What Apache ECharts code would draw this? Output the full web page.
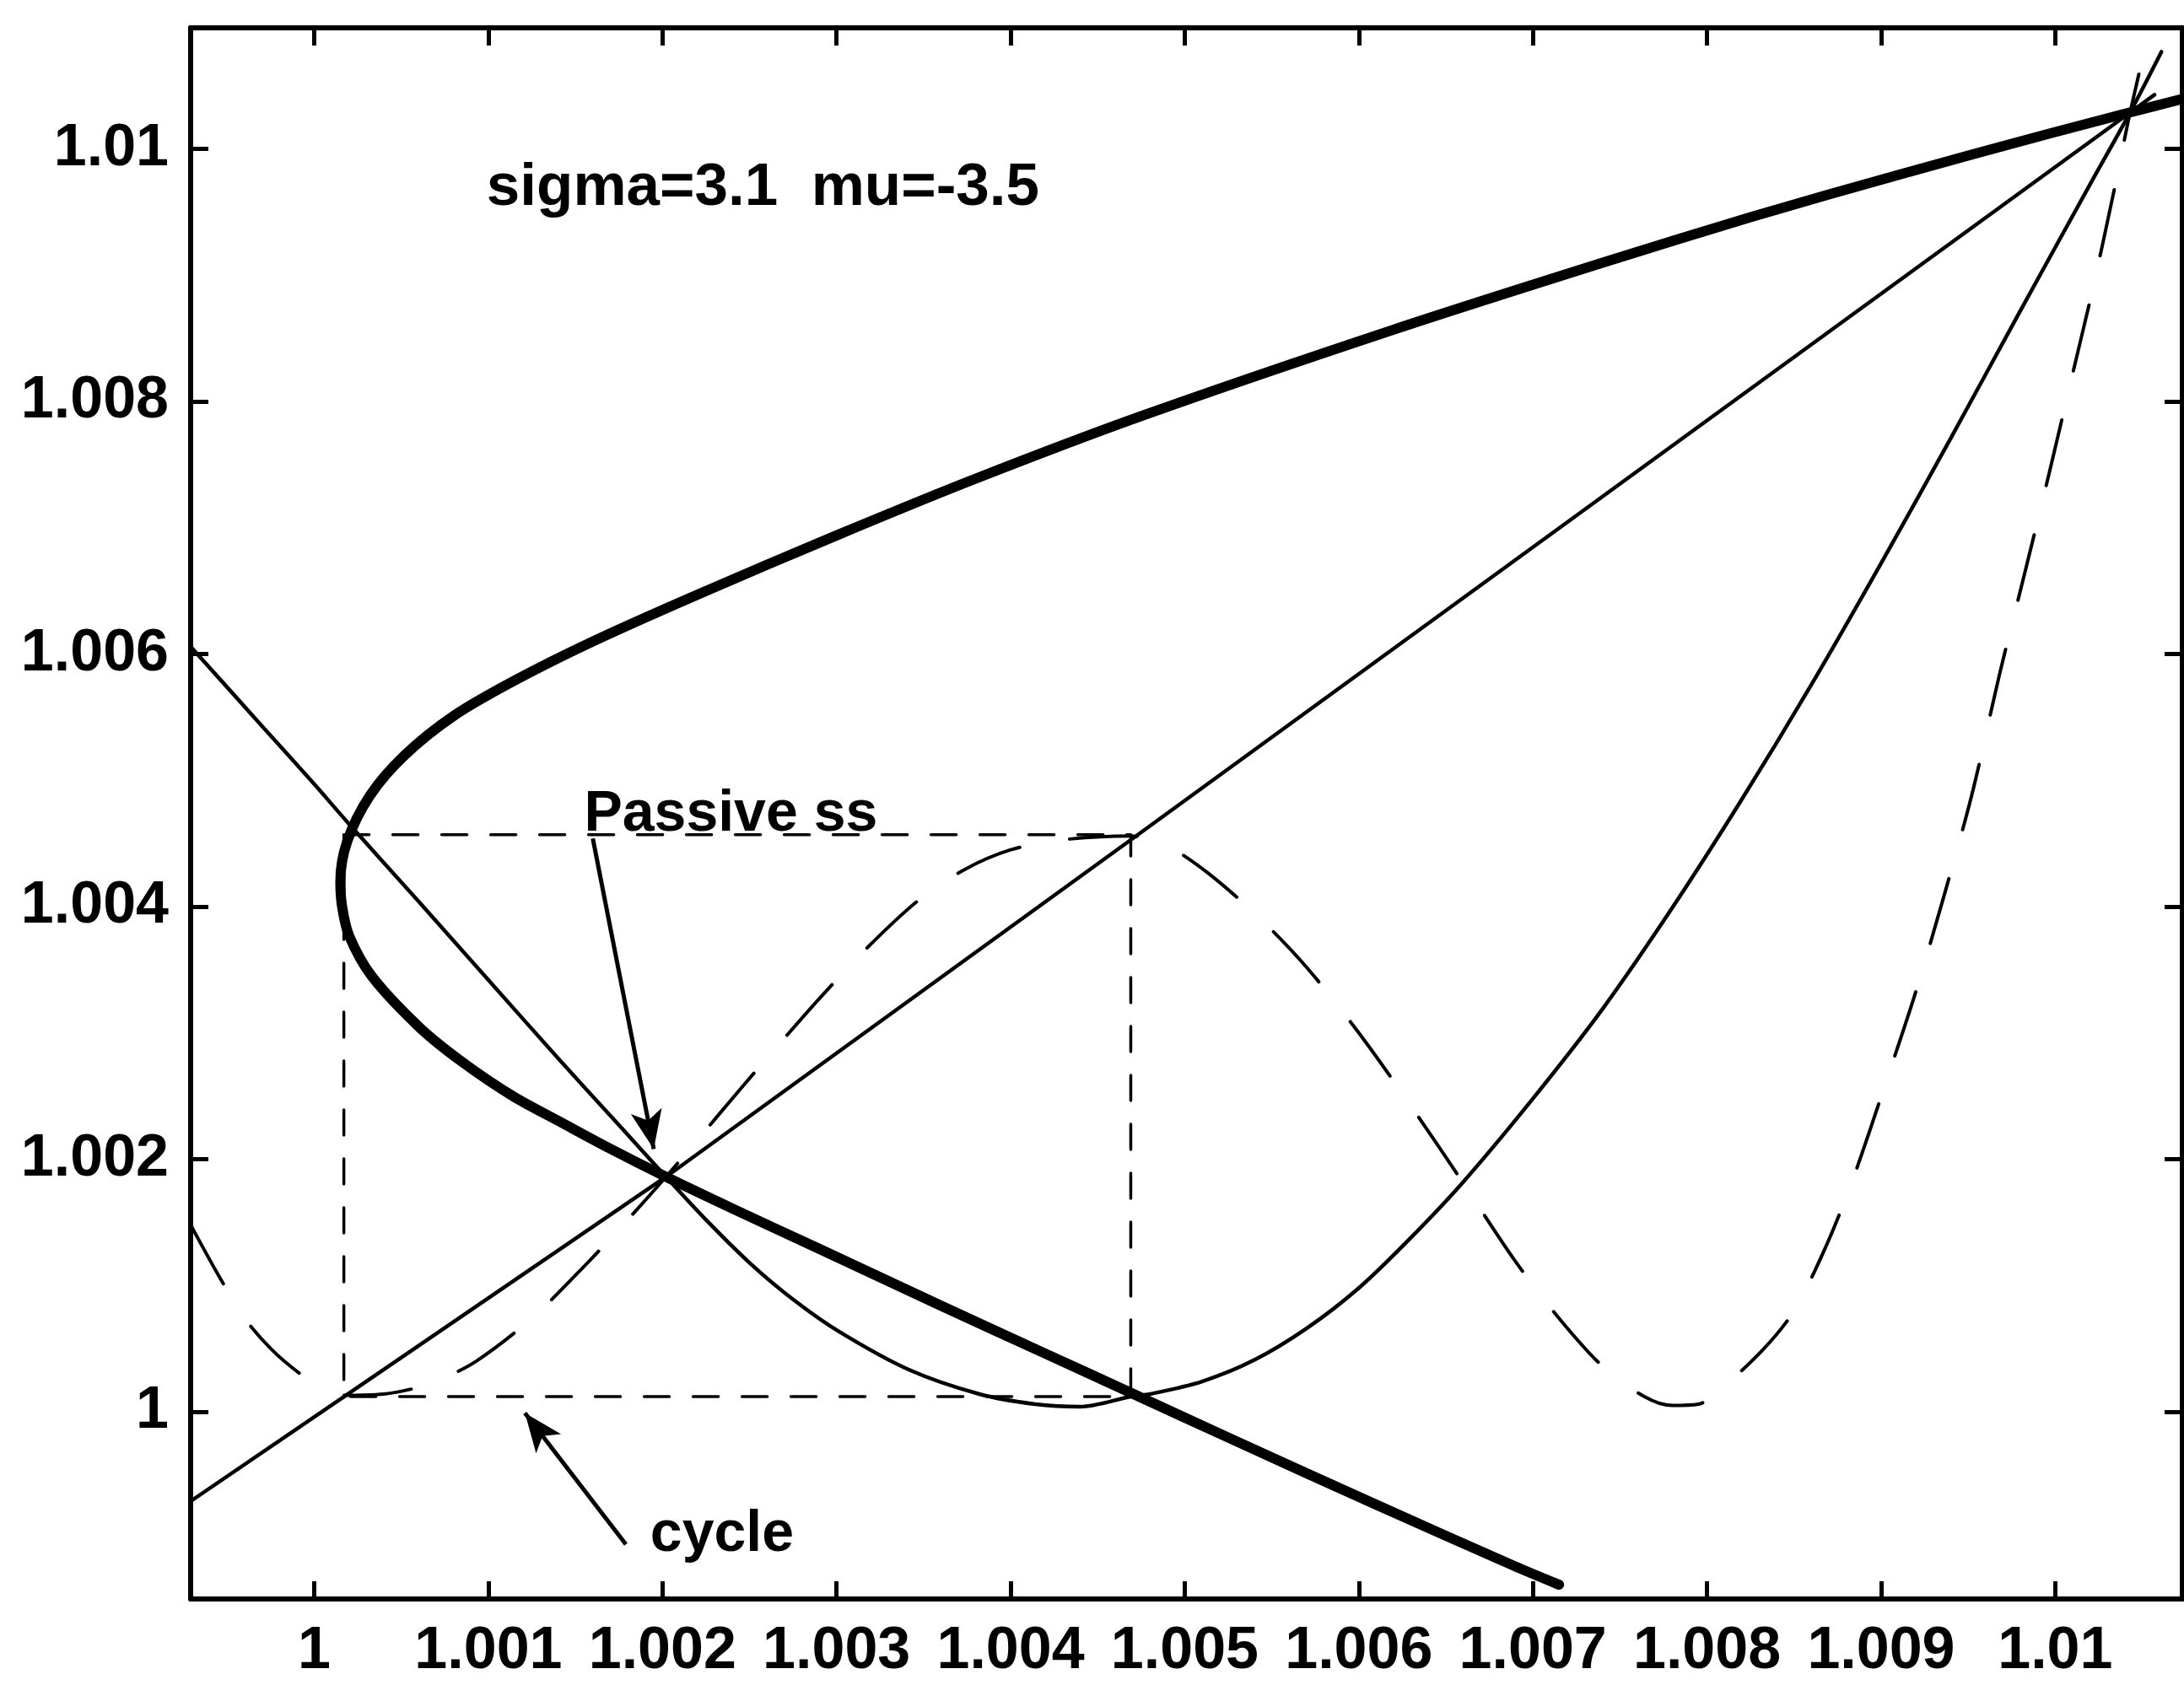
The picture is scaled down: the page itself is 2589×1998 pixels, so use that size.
<!DOCTYPE html>
<html>
<head>
<meta charset="utf-8">
<script src="https://cdn.jsdelivr.net/npm/echarts@6/dist/echarts.min.js"></script>
<style>
html,body{margin:0;padding:0;background:#fff;}
#chart{width:2589px;height:1998px;}
</style>
</head>
<body>
<div id="chart"></div>
<script>
// ---- axis ranges & ticks ----
const xRange = [0.99929, 1.01073];
const yRange = [0.998517, 1.01096];
const xTicks = [1, 1.001, 1.002, 1.003, 1.004, 1.005, 1.006, 1.007, 1.008, 1.009, 1.01];
const yTicks = [1, 1.002, 1.004, 1.006, 1.008, 1.01];

// ---- thick curve (locus) ----
const thickCurve = [
  [1.01074, 1.01040], [1.01043, 1.01029], [1.00996, 1.01012], [1.00911, 1.00980],
  [1.00825, 1.00946], [1.00740, 1.00910], [1.00620, 1.00857], [1.00476, 1.00789],
  [1.00380, 1.00739], [1.00300, 1.00694], [1.00220, 1.00647], [1.00160, 1.00610],
  [1.00115, 1.00579], [1.00080, 1.00551], [1.00052, 1.00520], [1.00032, 1.00488],
  [1.00019, 1.00452], [1.00015, 1.00420], [1.00016, 1.00400], [1.00020, 1.00377],
  [1.00033, 1.00345], [1.00060, 1.00305], [1.00084, 1.00278], [1.00114, 1.00250],
  [1.00142, 1.00229], [1.00169, 1.00209], [1.00202, 1.00186], [1.00240, 1.00161],
  [1.00290, 1.00129], [1.00360, 1.00084], [1.00420, 1.00046], [1.00469, 1.00015],
  [1.00529, 0.99977], [1.00609, 0.99927], [1.00689, 0.99878], [1.00715, 0.99863]
];

// ---- thin map curve f ----
const mapCurve = [
  [0.99929, 1.00606], [0.99970, 1.00543], [1.00000, 1.00497], [1.00019, 1.00467],
  [1.00060, 1.00404], [1.00100, 1.00342], [1.00140, 1.00280], [1.00175, 1.00227],
  [1.00202, 1.00186], [1.00225, 1.00152], [1.00250, 1.00118], [1.00275, 1.00089],
  [1.00302, 1.00063], [1.00342, 1.00033], [1.00382, 1.00014], [1.00414, 1.00006],
  [1.00440, 1.00004], [1.00469, 1.00012], [1.00480, 1.00014], [1.00510, 1.00024],
  [1.00540, 1.00041], [1.00570, 1.00066], [1.00600, 1.00098], [1.00630, 1.00138],
  [1.00660, 1.00182], [1.00700, 1.00248], [1.00740, 1.00319], [1.00780, 1.00399],
  [1.00820, 1.00485], [1.00860, 1.00576], [1.00900, 1.00672], [1.00940, 1.00771],
  [1.00980, 1.00872], [1.01020, 1.00972], [1.01043, 1.01029], [1.01061, 1.01077]
];

// ---- dashed second-iterate curve ----
const iterCurve = [
  [0.99929, 1.00148], [0.99945, 1.00108], [0.99960, 1.00074], [0.99975, 1.00050],
  [0.99991, 1.00031], [1.00005, 1.00019], [1.00017, 1.00013], [1.00040, 1.00014],
  [1.00056, 1.00018], [1.00070, 1.00024], [1.00093, 1.00040], [1.00125, 1.00074],
  [1.00157, 1.00118], [1.00180, 1.00152], [1.00202, 1.00186], [1.00223, 1.00220],
  [1.00245, 1.00256], [1.00267, 1.00291], [1.00290, 1.00327], [1.00318, 1.00368],
  [1.00347, 1.00405], [1.00373, 1.00429], [1.00400, 1.00445], [1.00430, 1.00453],
  [1.00469, 1.00456], [1.00490, 1.00448], [1.00513, 1.00427], [1.00543, 1.00391],
  [1.00570, 1.00352], [1.00600, 1.00300], [1.00630, 1.00242], [1.00660, 1.00181],
  [1.00690, 1.00119], [1.00715, 1.00074], [1.00740, 1.00036], [1.00764, 1.00012],
  [1.00780, 1.00005], [1.00795, 1.00006], [1.00804, 1.00013], [1.00832, 1.00049],
  [1.00850, 1.00080], [1.00868, 1.00130], [1.00884, 1.00185], [1.00904, 1.00266],
  [1.00920, 1.00333], [1.00936, 1.00408], [1.00952, 1.00488], [1.00968, 1.00584],
  [1.00983, 1.00667], [1.00997, 1.00746], [1.01010, 1.00822], [1.01022, 1.00892],
  [1.01035, 1.00975], [1.01043, 1.01029], [1.01055, 1.01100]
];

// ---- 45 degree line (as traced on the scan) ----
const diagonal = [
  [0.999244, 0.999248], [1.000178, 1.000126], [1.00202, 1.00186],
  [1.004716, 1.004555], [1.010428, 1.010287], [1.01057, 1.01043]
];

// ---- two-cycle construction ----
const cycleBox = [
  [1.00017, 1.00457], [1.00469, 1.00457], [1.00469, 1.00012],
  [1.00017, 1.00012], [1.00017, 1.00457]
];

// ---- annotations ----
const paramText = 'sigma=3.1  mu=-3.5';
const paramPos = [1.00099, 1.00969];
const passiveText = 'Passive ss';
const passivePos = [1.00155, 1.00473];
const passiveArrow = [[1.00160, 1.00454], [1.00195, 1.00208]];
const cycleText = 'cycle';
const cyclePos = [1.00193, 0.99902];
const cycleArrow = [[1.00179, 0.99895], [1.00121, 0.99999]];

const FONT = '"Liberation Sans", Arial, Helvetica, sans-serif';
const fmt = v => String(parseFloat(Number(v).toFixed(4)));

const chart = echarts.init(document.getElementById('chart'), null, {renderer: 'canvas'});

function axisCommon(){
  return {
    type: 'value',
    axisLine: {show: true, onZero: false, lineStyle: {color: '#000', width: 6}},
    splitLine: {show: false},
    axisTick: {show: true, inside: true, length: 21, lineStyle: {color: '#000', width: 5}},
  };
}

const xBottom = Object.assign(axisCommon(), {
  position: 'bottom', min: xRange[0], max: xRange[1],
  axisLabel: {show: true, customValues: xTicks, formatter: fmt, color: '#000',
    fontSize: 70, fontWeight: 'bold', fontFamily: FONT, margin: 28}
});
xBottom.axisTick.customValues = xTicks;
const xTop = Object.assign(axisCommon(), {
  position: 'top', min: xRange[0], max: xRange[1], axisLabel: {show: false}
});
xTop.axisTick.customValues = xTicks;
const yLeft = Object.assign(axisCommon(), {
  position: 'left', min: yRange[0], max: yRange[1],
  axisLabel: {show: true, customValues: yTicks, formatter: fmt, color: '#000',
    fontSize: 70, fontWeight: 'bold', fontFamily: FONT, margin: 26}
});
yLeft.axisTick.customValues = yTicks;
const yRight = Object.assign(axisCommon(), {
  position: 'right', min: yRange[0], max: yRange[1], axisLabel: {show: false}
});
yRight.axisTick.customValues = yTicks;

function lineSeries(name, data, width, type, z, smooth){
  return {
    name, type: 'line', data, xAxisIndex: 0, yAxisIndex: 0,
    showSymbol: false, symbol: 'none', smooth: smooth, clip: true,
    lineStyle: {color: '#000', width, type, cap: 'round', join: 'round'},
    z: z, silent: true, animation: false
  };
}

const option = {
  backgroundColor: '#ffffff',
  animation: false,
  grid: {left: 226, right: 2, top: 33, bottom: 102, containLabel: false},
  xAxis: [xBottom, xTop],
  yAxis: [yLeft, yRight],
  series: [
    lineSeries('diagonal', diagonal, 4.5, 'solid', 3, false),
    lineSeries('map', mapCurve, 4.5, 'solid', 3, 0.3),
    lineSeries('iterate', iterCurve, 4, [80, 60], 3, 0.3),
    lineSeries('cycle', cycleBox, 3.5, [30, 28], 2, false),
    lineSeries('locus', thickCurve, 12, 'solid', 4, 0.3),
    {
      type: 'line', data: [], xAxisIndex: 0, yAxisIndex: 0, silent: true,
      markLine: {
        silent: true, animation: false,
        symbol: ['none', 'arrow'], symbolSize: [28, 46],
        label: {show: false},
        lineStyle: {color: '#000', width: 5, type: 'solid'},
        data: [
          [{coord: passiveArrow[0]}, {coord: passiveArrow[1]}],
          [{coord: cycleArrow[0]}, {coord: cycleArrow[1]}]
        ]
      }
    }
  ]
};
chart.setOption(option);

function px(p){ return chart.convertToPixel({xAxisIndex: 0, yAxisIndex: 0}, p); }
function txt(str, pos, size){
  const p = px(pos);
  return {type: 'text', x: p[0], y: p[1], z: 10, silent: true,
    style: {text: str, fill: '#000', fontSize: size, fontWeight: 'bold', fontFamily: FONT,
      align: 'left', verticalAlign: 'middle'}};
}
chart.setOption({graphic: [
  txt(paramText, paramPos, 71),
  txt(passiveText, passivePos, 68),
  txt(cycleText, cyclePos, 68)
]});
</script>
</body>
</html>
